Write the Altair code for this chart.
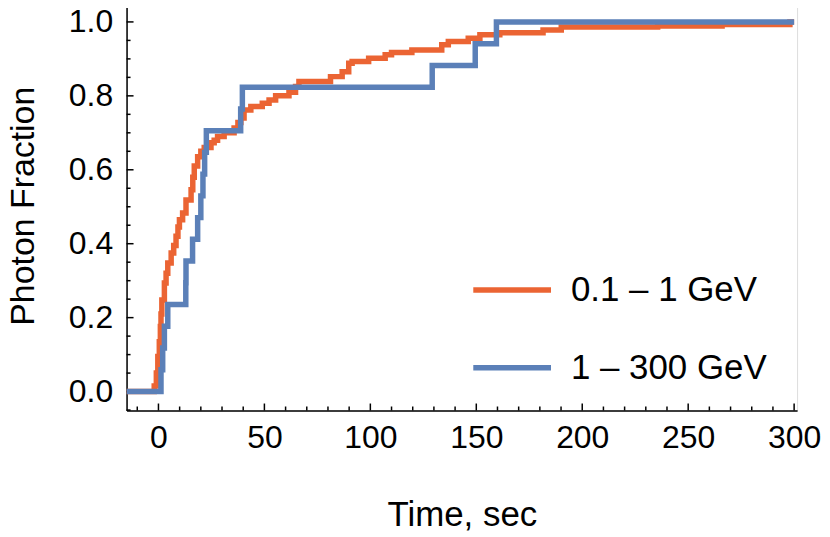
import altair as alt
import pandas as pd

# ---- data ----
low_label = "0.1 – 1 GeV"
high_label = "1 – 300 GeV"

low_t = [-15, -2.0, -1.0, -0.3, 0.4, 0.9, 1.2, 1.6, 2.8, 3.6, 4.4, 6.0, 7.2, 8.3, 9.2, 9.9,
         11.4, 13.0, 15.4, 16.2, 16.9, 18.5, 20.0, 21.6, 24.8, 26.3, 27.9, 31.0, 35.7, 37.5,
         38.9, 40.4, 43.6, 49.0, 52.2, 55.3, 61.6, 64.7, 66.3, 81.2, 86.7, 89.8, 91.4, 99.2,
         107, 110, 119.6, 133.7, 136.8, 146.2, 151.7, 161.1, 181.5, 190.1, 235.6, 266, 298, 300]
low_f = [0, 0.015, 0.05, 0.095, 0.135, 0.176, 0.21, 0.248, 0.294, 0.32, 0.348, 0.375, 0.395,
         0.42, 0.445, 0.465, 0.483, 0.518, 0.546, 0.58, 0.61, 0.635, 0.65, 0.66, 0.673, 0.68,
         0.69, 0.70, 0.713, 0.728, 0.74, 0.762, 0.771, 0.78, 0.789, 0.80, 0.81, 0.825, 0.839,
         0.852, 0.865, 0.888, 0.893, 0.902, 0.911, 0.917, 0.924, 0.938, 0.947, 0.956, 0.965,
         0.971, 0.978, 0.986, 0.989, 0.993, 1.0, 1.0]

high_t = [-15, 1.2, 2.0, 2.8, 4.4, 12.9, 13.0, 16.1, 18.5, 20.0, 21.0, 21.8, 22.6, 38.8, 39.6,
          129.2, 149.5, 159.5, 300]
high_f = [0, 1/17, 2/17, 3/17, 4/17, 5/17, 6/17, 7/17, 8/17, 9/17, 10/17, 11/17, 12/17,
          13/17, 14/17, 15/17, 16/17, 1.0, 1.0]

x_major = [0, 50, 100, 150, 200, 250, 300]
x_minor = [-10, 10, 20, 30, 40, 60, 70, 80, 90, 110, 120, 130, 140, 160, 170, 180, 190,
           210, 220, 230, 240, 260, 270, 280, 290]
y_major = [0.0, 0.2, 0.4, 0.6, 0.8, 1.0]
y_minor = [-0.05, 0.05, 0.1, 0.15, 0.25, 0.3, 0.35, 0.45, 0.5, 0.55, 0.65, 0.7, 0.75,
           0.85, 0.9, 0.95, 1.05]

# ---- build tables ----
df = pd.concat([
    pd.DataFrame({"t": low_t, "f": low_f, "s": low_label}),
    pd.DataFrame({"t": high_t, "f": high_f, "s": high_label}),
])

W, H = 673, 411
FONT = "Liberation Sans"
xs = alt.Scale(domain=[-15.05, 301.4], nice=False, zero=False)
ys = alt.Scale(domain=[-0.0512, 1.0566], nice=False, zero=False)

ax_x = alt.Axis(title="Time, sec", values=x_major, format="d", ticks=False, grid=False,
                domainColor="black", domainWidth=1.5, labelFontSize=32, labelFont=FONT,
                labelColor="black", labelPadding=12, titleFontSize=35, titleFont=FONT,
                titleFontWeight="normal", titleColor="black", titlePadding=44,
                labelFlush=False)
ax_y = alt.Axis(title="Photon Fraction", values=y_major, format=".1f", ticks=False, grid=False,
                domainColor="black", domainWidth=1.5, labelFontSize=32, labelFont=FONT,
                labelColor="black", labelPadding=14, titleFontSize=34, titleFont=FONT,
                titleFontWeight="normal", titleColor="black", titlePadding=28,
                labelFlush=False)

lines = alt.Chart(df).mark_line(interpolate="step-after", strokeWidth=5.5).encode(
    x=alt.X("t:Q", scale=xs, axis=ax_x),
    y=alt.Y("f:Q", scale=ys, axis=ax_y),
    color=alt.Color("s:N",
                    scale=alt.Scale(domain=[low_label, high_label], range=["#EB6433", "#5B80B8"]),
                    legend=alt.Legend(title=None, orient="none", legendX=345, legendY=248,
                                      symbolType="stroke", symbolStrokeWidth=5.5,
                                      symbolSize=6084, labelFontSize=35, labelFont=FONT,
                                      labelColor="black", labelOffset=17, rowPadding=18,
                                      labelLimit=0)),
    order=alt.Order("s:N"),
)

def xticks(vals, length):
    d = pd.DataFrame({"t": vals})
    return alt.Chart(d).mark_rule(color="black", strokeWidth=1.5).encode(
        x=alt.X("t:Q", scale=xs, axis=ax_x),
        y=alt.value(H), y2=alt.value(H - length))

def yticks(vals, length):
    d = pd.DataFrame({"f": vals})
    return alt.Chart(d).mark_rule(color="black", strokeWidth=1.5).encode(
        y=alt.Y("f:Q", scale=ys, axis=ax_y),
        x=alt.value(0), x2=alt.value(length))

chart = alt.layer(
    xticks(x_major, 7), xticks(x_minor, 4), yticks(y_major, 7), yticks(y_minor, 4), lines
).properties(
    width=W, height=H,
    autosize=alt.AutoSizeParams(type="none"),
    padding={"left": 119, "top": -8, "right": 25, "bottom": 126},
).configure_view(stroke=None).configure(background="white")

chart.save("out.html", embed_options={"renderer": "svg", "actions": False})
